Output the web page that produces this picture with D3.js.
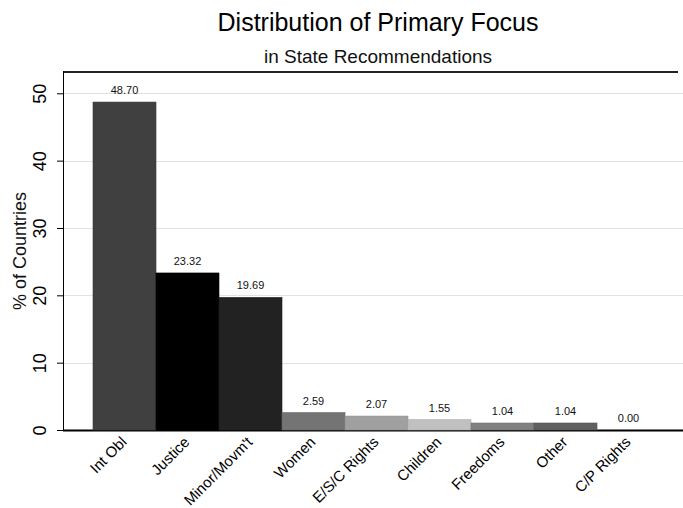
<!DOCTYPE html>
<html><head><meta charset="utf-8">
<script src="https://cdn.jsdelivr.net/npm/d3@7"></script>
<style>body{margin:0;background:#fff}svg{display:block}text{font-family:"Liberation Sans",Arial,sans-serif}</style>
</head><body><svg id="c" width="683" height="508"></svg>
<script>
const categories = ["Int Obl","Justice","Minor/Movm't","Women","E/S/C Rights","Children","Freedoms","Other","C/P Rights"];
const values = [48.70,23.32,19.69,2.59,2.07,1.55,1.04,1.04,0.00];
const barColors = ["#404040","#000000","#222222","#747474","#a0a0a0","#c0c0c0","#808080","#606060","#000000"];
const yTicks = [0,10,20,30,40,50];

const svg = d3.select("#c");
const plot = {left:63, right:683, top:72, bottom:430};
const x = d3.scaleBand().domain(categories).range([93, 660]).padding(0);
const y = d3.scaleLinear().domain([0,50]).range([430, 93.3]);

// title
svg.append("text").attr("x",378).attr("y",31).attr("text-anchor","middle")
  .attr("font-size",25).attr("fill","#000").text("Distribution of Primary Focus");
svg.append("text").attr("x",378).attr("y",63).attr("text-anchor","middle")
  .attr("font-size",19).attr("fill","#111").text("in State Recommendations");

// gridlines
svg.append("g").selectAll("line").data(yTicks.filter(d=>d>0)).join("line")
  .attr("x1",plot.left).attr("x2",plot.right)
  .attr("y1",d=>Math.round(y(d))+0.5).attr("y2",d=>Math.round(y(d))+0.5)
  .attr("stroke","#e2e2e2").attr("stroke-width",1);

// top frame
svg.append("line").attr("x1",plot.left).attr("x2",678).attr("y1",72).attr("y2",72)
  .attr("stroke","#222").attr("stroke-width",2);

// bottom axis line
svg.append("line").attr("x1",plot.left).attr("x2",plot.right).attr("y1",430.5).attr("y2",430.5)
  .attr("stroke","#000").attr("stroke-width",2);

// bars
svg.append("g").selectAll("rect").data(categories).join("rect")
  .attr("x",d=>x(d)).attr("width",x.bandwidth())
  .attr("y",(d,i)=>y(values[i])).attr("height",(d,i)=>y(0)-y(values[i]))
  .attr("fill",(d,i)=>barColors[i])
  .attr("stroke",(d,i)=>d3.color(barColors[i]).darker(0.3)).attr("stroke-width",0.6);

// value labels
svg.append("g").selectAll("text").data(categories).join("text")
  .attr("x",d=>x(d)+x.bandwidth()/2).attr("y",(d,i)=>y(values[i])-8)
  .attr("text-anchor","middle").attr("font-size",11).attr("fill","#111")
  .text((d,i)=>values[i].toFixed(2));

// y axis
const ya = d3.axisLeft(y).tickValues(yTicks).tickSize(6).tickFormat(d3.format("d"));
const yg = svg.append("g").attr("transform",`translate(${plot.left},0)`).call(ya);
yg.select(".domain").remove();
yg.selectAll(".tick line").attr("stroke","#000");
yg.selectAll(".tick text").attr("font-size",18).attr("fill","#000")
  .attr("x",0).attr("dy",null).attr("text-anchor","middle")
  .attr("transform","translate(-17,0) rotate(-90)");
svg.append("line").attr("x1",plot.left+0.5).attr("x2",plot.left+0.5).attr("y1",71).attr("y2",431)
  .attr("stroke","#000").attr("stroke-width",1);

svg.append("text").attr("transform","translate(26,251) rotate(-90)").attr("text-anchor","middle")
  .attr("font-size",18).attr("fill","#111").text("% of Countries");

// x axis labels
const xa = d3.axisBottom(x).tickSize(0);
const xg = svg.append("g").attr("transform",`translate(0,${plot.bottom})`).call(xa);
xg.select(".domain").remove();
xg.selectAll(".tick text").attr("font-size",15).attr("fill","#000")
  .attr("y",0).attr("dy",null).attr("text-anchor","end")
  .attr("transform","translate(3,13) rotate(-45)");
</script></body></html>
